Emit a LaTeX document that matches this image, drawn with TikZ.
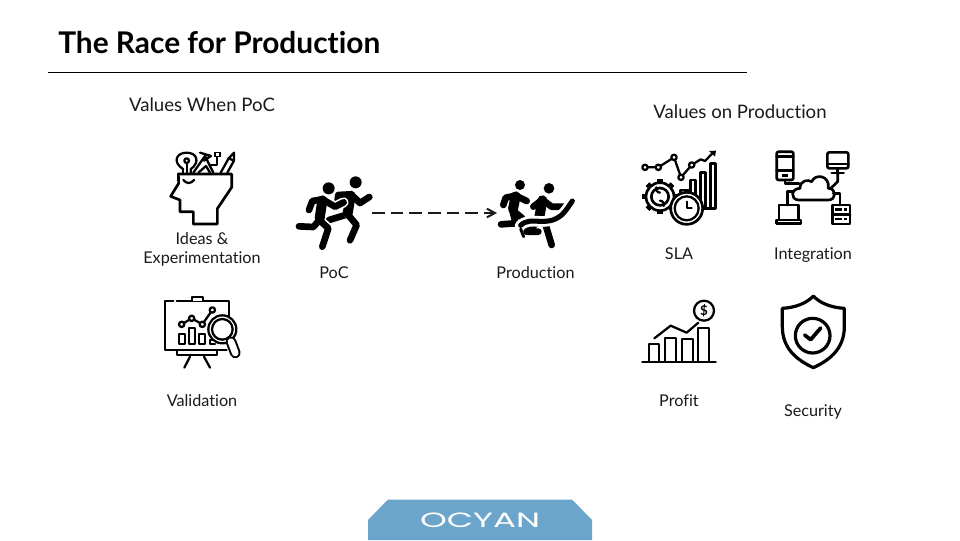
\documentclass[tikz,border=0pt]{standalone}
\usepackage{fontspec}
\setmainfont{Lato}[Ligatures=NoCommon]
\newfontfamily\logofont{Poppins}
\usetikzlibrary{arrows.meta}
\definecolor{ink}{HTML}{1A1A1A}
\definecolor{logoblue}{HTML}{6CA5CB}
\tikzset{
  px/.style={x=0.75pt,y=-0.75pt},
  zoomed/.style={shift={(#1)},x=0.25pt,y=-0.25pt,line join=round,line cap=round},
  icon/.style={draw=black,line width=2pt,fill=none},
  iconthin/.style={draw=black,line width=1.7pt,fill=none},
  limb/.style={draw=black,line width=5pt,line cap=round,line join=round},
  torso/.style={draw=black,line width=7.5pt,line cap=round,line join=round},
  halo/.style={draw=white,line width=7.5pt,line cap=round,line join=round},
  lbl/.style={font=\fontsize{12.15pt}{14.25pt}\selectfont,text=ink,anchor=base,inner sep=0pt,align=center},
  heading/.style={font=\fontsize{13.95pt}{16pt}\selectfont,text=ink,anchor=base,inner sep=0pt},
}
\begin{document}
\begin{tikzpicture}[px]
\useasboundingbox (0,0) rectangle (960,540);
\fill[white] (0,0) rectangle (960,540);
% title
\node[font=\fontsize{22.4pt}{26pt}\selectfont\bfseries,text=black,anchor=base west,inner sep=0pt] (title) at (58,53) {The Race for Production};
\coordinate (ruleL) at (48,72.5);
\coordinate (ruleR) at (747,72.5);
\draw[black,line width=0.75pt] (ruleL) -- (ruleR);
% headings
\node[heading] (hpoc) at (202,111.5) {Values When PoC};
\node[heading] (hprod) at (740,118.5) {Values on Production};
% labels
\node[lbl,anchor=center] (lideas) at (202,249) {Ideas \&\\Experimentation};
\node[lbl] (lval) at (202,406.5) {Validation};
\node[lbl] (lpoc) at (334,278.5) {PoC};
\node[lbl] (lprod) at (535.5,278.5) {Production};
\node[lbl] (lsla) at (679,259.5) {SLA};
\node[lbl] (lint) at (813,259.5) {Integration};
\node[lbl] (lprofit) at (679,406.5) {Profit};
\node[lbl] (lsec) at (813,416) {Security};
% head icon
\begin{scope}[zoomed={130,130}]
  \draw[icon] (145,132) -- (305,132) -- (305,172) -- (262,236) -- (262,282) -- (190,282) -- (190,245) -- (150,245) -- (150,210) -- (122,199) -- (146,160) -- cycle;
  \draw[iconthin] (160,150) .. controls (170,162) and (182,162) .. (192,150);
  \draw[iconthin] (160,118) .. controls (125,95) and (140,68) .. (170,68) .. controls (200,68) and (212,95) .. (182,118) -- (182,130);
  \draw[iconthin] (160,118) -- (160,130);
  \draw[iconthin] (170,92) circle (7);
  \draw[iconthin] (170,100) -- (170,128);
  \draw[iconthin] (190,128) -- (225,78) -- (250,128);
  \draw[iconthin] (210,68) -- (243,78) -- (222,92);
  \draw[iconthin] (205,128) -- (228,108) -- (240,128);
  \draw[iconthin] (262,82) -- (262,105) -- (240,105);
  \fill[black] (253,65) rectangle (273,82);
  \fill[white] (259,70) rectangle (267,77);
  \draw[iconthin] (272,128) -- (296,85) -- (312,68) -- (312,92) -- (292,128);
  \draw[iconthin] (296,85) -- (312,92);
\end{scope}
% validation icon
\begin{scope}[zoomed={130,285}]
  \draw[iconthin] (130,48) -- (105,48) -- (105,195) -- (290,195);
  \draw[iconthin] (140,48) -- (298,48) -- (298,110);
  \draw[iconthin,fill=white] (185,48) -- (185,35) -- (218,35) -- (218,48);
  \draw[iconthin] (140,197) -- (140,210) -- (262,210) -- (262,197);
  \draw[iconthin] (180,215) -- (163,248);
  \draw[iconthin] (222,215) -- (240,248);
  \draw[iconthin] (155,118) -- (185,100) -- (217,118) -- (247,75);
  \foreach \cx/\cy in {155/118,185/100,217/118,247/75}
    \draw[iconthin,fill=white] (\cx,\cy) circle (8);
  \draw[iconthin] (148,148) rectangle (165,178);
  \draw[iconthin] (178,130) rectangle (195,178);
  \draw[iconthin] (208,148) rectangle (225,178);
  \draw[iconthin] (250,165) -- (240,165) -- (240,178) -- (255,178);
  \draw[iconthin,fill=white] (277,133) circle (42);
  \draw[iconthin] (277,133) circle (31);
  \draw[line width=8pt,black] (303,170) -- (316,204);
  \draw[line width=5pt,white] (303,170) -- (316,204);
\end{scope}
% runners and arrow
\begin{scope}[zoomed={285,165}]
  % rear runner
  \fill[black] (212,52) circle (18);
  \draw[torso] (197,92) -- (188,145);
  \draw[limb] (188,148) -- (132,165);
  \draw[limb] (188,148) -- (215,180) -- (195,226);
  \draw[limb] (197,88) -- (160,90) -- (158,105);
  \draw[limb] (200,90) -- (225,114) -- (253,96);
  % front runner
  \draw[halo] (112,103) -- (103,165) -- (85,186) -- (42,184);
  \draw[halo] (103,165) -- (130,190) -- (112,245);
  \draw[halo] (112,103) -- (150,125) -- (176,112);
  \fill[black] (131,70) circle (18);
  \draw[torso] (112,106) -- (104,160);
  \draw[limb] (103,165) -- (85,186) -- (42,184);
  \draw[limb] (103,165) -- (130,190) -- (112,245);
  \draw[limb] (112,103) -- (82,108) -- (72,135);
  \draw[limb] (112,103) -- (150,125) -- (176,112);
  % finishing runners
  \fill[black] (705,60) circle (15);
  \draw[torso] (692,94) -- (684,132);
  \draw[limb] (682,135) -- (692,175) -- (648,178);
  \draw[limb] (692,92) -- (662,98) -- (655,120);
  \draw[limb] (692,92) -- (725,108);
  \draw[limb] (682,135) -- (712,160);
  \fill[black] (792,70) circle (16);
  \draw[torso] (772,106) -- (762,162);
  \draw[limb] (772,104) -- (745,125);
  \draw[limb] (772,104) -- (800,125) -- (838,125);
  \draw[limb] (770,170) -- (782,180) -- (800,240);
  \draw[limb] (760,170) -- (725,200) -- (760,200);
  \draw[white,line width=8pt] (705,182) .. controls (740,150) and (780,190) .. (830,150) .. controls (845,135) and (850,125) .. (862,108);
  \draw[black,line width=3.8pt] (707,181) .. controls (740,150) and (780,190) .. (830,150) .. controls (845,135) and (850,125) .. (862,108);
  \draw[black,line width=2.2pt] (707,192) -- (716,215);
\end{scope}
\coordinate (pocrun) at (372,213);
\coordinate (prodrun) at (497,213);
\draw[ink,line width=1.5pt,dash pattern=on 9.5pt off 4.5pt,-{Straight Barb[length=6pt,width=6.5pt]}] (pocrun) -- (prodrun);
% SLA icon
\begin{scope}[zoomed={630,140}]
  \draw[iconthin] (45,82) -- (85,82) -- (132,52) -- (153,112) -- (185,75) -- (212,58) -- (225,63) -- (250,37);
  \fill[black] (258,32) -- (237,33) -- (255,50) -- cycle;
  \foreach \cx/\cy in {45/82,85/82,132/52,153/112,185/75}
    \draw[iconthin,fill=white] (\cx,\cy) circle (8);
  \draw[icon] (182,205) -- (182,120) -- (197,120) -- (197,190);
  \draw[icon] (212,205) -- (212,98) -- (227,98) -- (227,205);
  \draw[icon] (242,205) -- (242,70) -- (257,70) -- (257,205) -- (212,205);
  \foreach \a in {0,45,...,315}
    \draw[black,line width=4pt,line cap=butt] (90,170)++(\a:43) -- ++(\a:10);
  \draw[icon] (90,170) circle (42);
  \draw[icon] (90,170) circle (26);
  \draw[iconthin] (90,158) arc (90:200:12);
  \draw[iconthin] (90,182) arc (270:380:12);
  \draw[icon] (152,150) rectangle (180,160);
  \draw[icon,fill=white] (170,205) circle (48);
  \draw[iconthin] (170,205) circle (36);
  \draw[iconthin] (170,185) -- (170,205) -- (185,205);
\end{scope}
% integration icon
\begin{scope}[zoomed={765,140}]
  \draw[icon,rounded corners=1.5pt] (35,35) rectangle (85,120);
  \draw[icon] (35,50) -- (85,50);
  \draw[icon] (35,92) -- (85,92);
  \fill[black] (52,103) rectangle (70,110);
  \draw[icon,rounded corners=1.5pt] (187,37) rectangle (250,85);
  \draw[icon] (187,72) -- (250,72);
  \draw[icon] (218,85) -- (218,98) (200,99) -- (236,99);
  \draw[icon] (218,99) -- (218,125) -- (197,145);
  \draw[icon] (60,120) -- (60,130) -- (102,130);
  \draw[icon] (68,195) -- (68,155) -- (85,155);
  \draw[icon] (225,195) -- (225,160) -- (205,160);
  \draw[icon] (100,180) .. controls (75,178) and (78,145) .. (105,145) .. controls (105,120) and (130,118) .. (140,125) .. controls (150,100) and (195,105) .. (190,145) .. controls (215,145) and (215,180) .. (190,180) -- cycle;
  \draw[icon] (42,238) -- (42,195) -- (100,195) -- (100,238);
  \draw[icon] (35,240) rectangle (108,250);
  \draw[icon] (202,195) rectangle (255,252);
  \draw[icon] (202,223) -- (255,223);
  \fill[black] (210,205) rectangle (230,213);
  \fill[black] (210,233) rectangle (230,241);
  \fill[black] (238,205) rectangle (246,213);
  \fill[black] (238,233) rectangle (246,241);
\end{scope}
% profit icon
\begin{scope}[zoomed={630,290}]
  \draw[icon] (37,216) -- (257,216);
  \draw[iconthin] (57,216) -- (57,163) -- (88,163) -- (88,216);
  \draw[iconthin] (106,216) -- (106,143) -- (138,143) -- (138,216);
  \draw[iconthin] (155,216) -- (155,148) -- (188,148) -- (188,216);
  \draw[iconthin] (205,216) -- (205,115) -- (238,115) -- (238,216);
  \draw[iconthin] (73,145) -- (122,107) -- (170,128) -- (205,98);
  \draw[iconthin] (222,62) circle (30);
  \node[inner sep=0pt,font=\fontsize{10pt}{12pt}\selectfont\bfseries,text=black] (dollar) at (222,62) {\$};
\end{scope}
% security icon
\begin{scope}[zoomed={765,285}]
  \draw[line width=2.4pt,black] (145,33) .. controls (165,55) and (200,68) .. (238,70) -- (238,125) .. controls (238,190) and (195,225) .. (145,248) .. controls (95,225) and (52,190) .. (52,125) -- (52,70) .. controls (90,68) and (125,55) .. cycle;
  \draw[line width=2.4pt,black] (143,152) circle (52);
  \draw[line width=2.8pt,black] (119,150) -- (137,164) -- (167,129);
\end{scope}
% logo
\fill[logoblue] (368,520) -- (388,499.5) -- (572,499.5) -- (592,520) -- (592,540) -- (368,540) -- cycle;
\node[inner sep=0pt,text=white,font=\logofont\fontsize{15.5pt}{18pt}\selectfont] (logo) at (480,520) {\scalebox{1.65}[1]{OCYAN}};
\end{tikzpicture}
\end{document}
